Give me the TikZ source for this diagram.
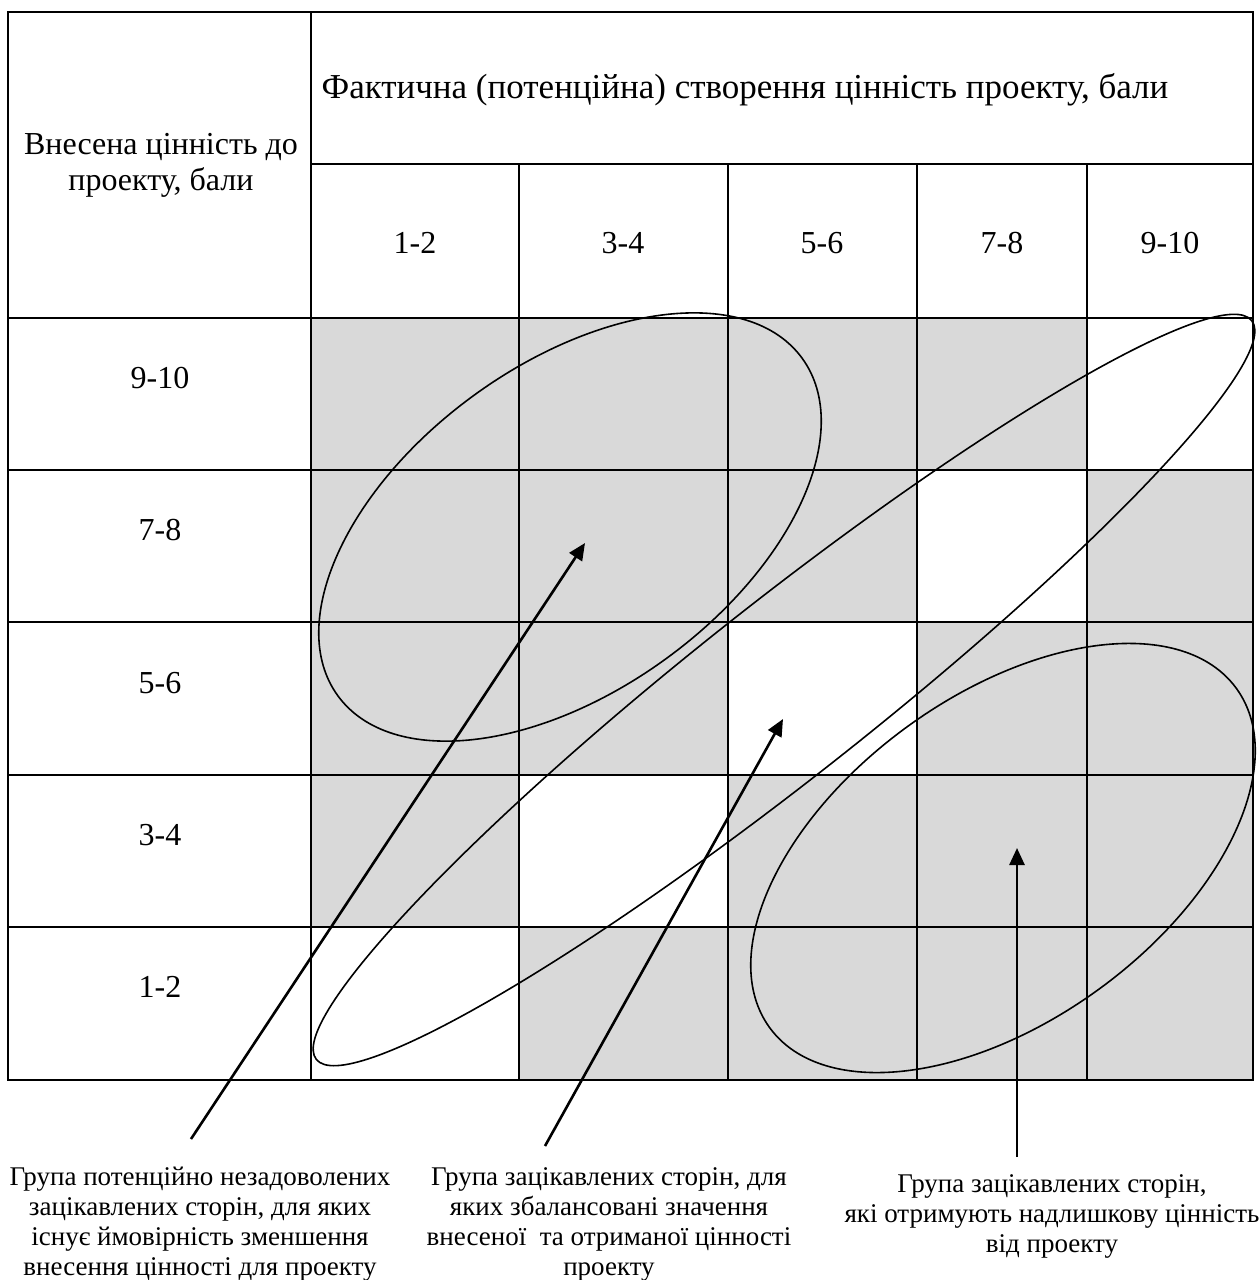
\documentclass[tikz,border=0pt]{standalone}
\usepackage{fontspec}
\setmainfont{Liberation Serif}
\usetikzlibrary{arrows.meta,shapes.geometric}
\definecolor{cellgray}{RGB}{217,217,217}

\begin{document}
\begin{tikzpicture}[x=1pt,y=-1pt,
  grid/.style={line width=2.2pt},
  loop/.style={draw, ellipse, line width=1.6pt, inner sep=0pt, outer sep=0pt},
  pointer/.style={line width=2.6pt, -{Triangle[length=17pt,width=15pt]}},
  tabtext/.style={inner sep=0pt, font=\fontsize{32}{36}\selectfont},
  note/.style={inner sep=0pt, align=center, anchor=north, font=\fontsize{27}{30}\selectfont},
]
\useasboundingbox (0,0) rectangle (1260,1280);

% shaded cells of the value matrix, the diagonal stays white
\fill[cellgray] (311,318) rectangle (1253,1080);
\fill[white] (1087,318) rectangle (1253,470);
\fill[white] (917,470) rectangle (1087,622);
\fill[white] (728,622) rectangle (917,775);
\fill[white] (519,775) rectangle (728,927);
\fill[white] (311,927) rectangle (519,1080);

% table rules
\draw[grid] (8,12) rectangle (1253,1080);
\draw[grid] (311,12) -- (311,1080);
\draw[grid] (311,164) -- (1253,164);
\foreach \x in {519,728,917,1087} \draw[grid] (\x,164) -- (\x,1080);
\foreach \y in {318,470,622,775,927} \draw[grid] (8,\y) -- (1253,\y);

% headers
\node[tabtext, align=center] (rowhead) at (161,165) {Внесена цінність до\\проекту, бали};
\node[tabtext, anchor=base, font=\fontsize{35}{40}\selectfont] (colhead) at (745,98) {Фактична (потенційна) створення цінність проекту, бали};

\node[tabtext, anchor=base] (c1) at (415,253) {1-2};
\node[tabtext, anchor=base] (c2) at (623,253) {3-4};
\node[tabtext, anchor=base] (c3) at (822,253) {5-6};
\node[tabtext, anchor=base] (c4) at (1002,253) {7-8};
\node[tabtext, anchor=base] (c5) at (1170,253) {9-10};

\node[tabtext, anchor=base] (r5) at (160,388) {9-10};
\node[tabtext, anchor=base] (r4) at (160,540) {7-8};
\node[tabtext, anchor=base] (r3) at (160,693) {5-6};
\node[tabtext, anchor=base] (r2) at (160,845) {3-4};
\node[tabtext, anchor=base] (r1) at (160,997) {1-2};

% stakeholder groups
\node[loop, minimum width=574pt, minimum height=326pt, rotate=36] (under) at (570,527) {};
\node[loop, minimum width=1192pt, minimum height=174pt, rotate=38.3] (balanced) at (784,690) {};
\node[loop, minimum width=577pt, minimum height=325pt, rotate=36] (surplus) at (1003,858) {};

% explanations
\node[note] (noteA) at (200,1167) {Група потенційно незадоволених\\зацікавлених сторін, для яких\\існує ймовірність зменшення\\внесення цінності для проекту};
\node[note] (noteB) at (609,1167) {Група зацікавлених сторін, для\\яких збалансовані значення\\внесеної~ та отриманої цінності\\проекту};
\node[note] (noteC) at (1052,1174) {Група зацікавлених сторін,\\які отримують надлишкову цінність\\від проекту};

\coordinate (tailA) at (191,1139);
\coordinate (tipA) at (585,543);
\coordinate (tailB) at (545,1146);
\coordinate (tipB) at (783,719);
\coordinate (tailC) at (1017,1157);
\coordinate (tipC) at (1017,848);

\draw[pointer] (tailA) -- (tipA);
\draw[pointer] (tailB) -- (tipB);
\draw[pointer] (tailC) -- (tipC);
\end{tikzpicture}
\end{document}
